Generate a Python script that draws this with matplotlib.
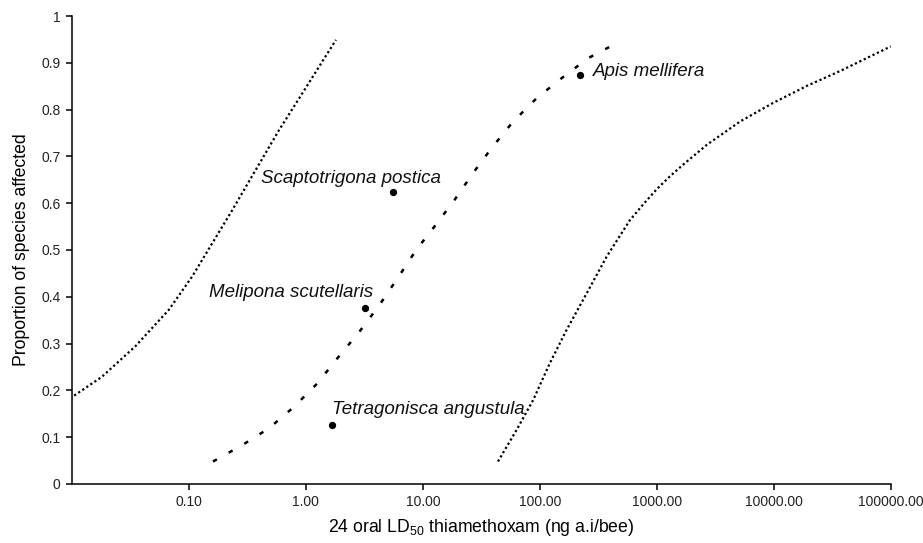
import matplotlib
matplotlib.use("Agg")
import matplotlib.pyplot as plt

plt.rcParams["font.family"] = ["Liberation Sans", "DejaVu Sans"]
plt.rcParams["mathtext.fontset"] = "custom"
plt.rcParams["mathtext.rm"] = "Liberation Sans"

# Lower curve (dotted, left)
left_x = [0.0097, 0.0181, 0.0349, 0.0675, 0.1067, 0.1585, 0.235, 0.373, 0.590, 0.935, 1.81]
left_y = [0.183, 0.229, 0.294, 0.372, 0.443, 0.514, 0.585, 0.671, 0.756, 0.835, 0.949]

# Fitted curve (dashed, middle)
mid_x = [0.161, 0.286, 0.485, 0.794, 1.256, 1.866, 2.864, 4.246, 6.095, 8.77,
         12.56, 18.66, 26.79, 38.46, 58.88, 93.5, 153.1, 258.8, 452.9]
mid_y = [0.048, 0.083, 0.119, 0.165, 0.215, 0.269, 0.325, 0.382, 0.440, 0.500,
         0.550, 0.607, 0.664, 0.717, 0.774, 0.824, 0.867, 0.910, 0.942]

# Upper curve (dotted, right)
right_x = [43.85, 63.1, 87.5, 121.6, 169.0, 250.6, 372.4, 588.8, 767, 997.7, 1300, 1687,
           2679, 5164, 9954, 19230, 37150, 99540]
right_y = [0.048, 0.115, 0.179, 0.258, 0.329, 0.407, 0.486, 0.564, 0.598, 0.630, 0.658, 0.683,
           0.725, 0.775, 0.815, 0.851, 0.883, 0.935]

# Species LD50 values and plotting positions
species = ["Tetragonisca angustula", "Melipona scutellaris", "Scaptotrigona postica", "Apis mellifera"]
ld50 = [1.67, 3.2, 5.52, 220]
prop = [0.125, 0.375, 0.625, 0.875]

x_ticks = [0.1, 1, 10, 100, 1000, 10000, 100000]
y_ticks = [0, 0.1, 0.2, 0.3, 0.4, 0.5, 0.6, 0.7, 0.8, 0.9, 1]

# label offsets in pixels (dx, dy, ha)
label_style = {
    "Tetragonisca angustula": (0, 16, "left"),
    "Melipona scutellaris": (8, 16, "right"),
    "Scaptotrigona postica": (48, 13, "right"),
    "Apis mellifera": (13, 3, "left"),
}

fig = plt.figure(figsize=(9.23, 5.43), dpi=100)
ax = fig.add_axes([0.0777, 0.1087, 0.8876, 0.8618])

ax.plot(left_x, left_y, color="black", linewidth=1.6, linestyle=(0, (1, 1.2)))
ax.plot(mid_x, mid_y, color="black", linewidth=1.8, linestyle=(0, (1.8, 5.4)))
ax.plot(right_x, right_y, color="black", linewidth=1.6, linestyle=(0, (1, 1.2)))

ax.scatter(ld50, prop, s=18, color="black", zorder=3)
for name, xv, yv in zip(species, ld50, prop):
    dx, dy, ha = label_style[name]
    ax.annotate(name, (xv, yv), xytext=(dx, dy), textcoords="offset pixels",
                ha=ha, va="center", fontsize=13.5, fontstyle="italic", color="#111111")

ax.set_xscale("log")
ax.set_xlim(0.01, 100000)
ax.set_ylim(0, 1)
ax.set_xticks(x_ticks)
ax.set_xticklabels([f"{v:.2f}" for v in x_ticks])
ax.xaxis.set_minor_locator(matplotlib.ticker.NullLocator())
ax.set_yticks(y_ticks)
ax.set_yticklabels(["0", "0.1", "0.2", "0.3", "0.4", "0.5", "0.6", "0.7", "0.8", "0.9", "1"])

for side in ["top", "right"]:
    ax.spines[side].set_visible(False)
for side in ["left", "bottom"]:
    ax.spines[side].set_linewidth(1.1)

ax.tick_params(axis="both", direction="out", length=4, width=1.1, labelsize=10,
               labelcolor="#222222", pad=4)

ax.set_ylabel("Proportion of species affected", fontsize=12.7, labelpad=8)
ax.set_xlabel("24 oral LD$_{50}$ thiamethoxam (ng a.i/bee)", fontsize=12.7, labelpad=6)

fig.savefig("out.png", dpi=100)
